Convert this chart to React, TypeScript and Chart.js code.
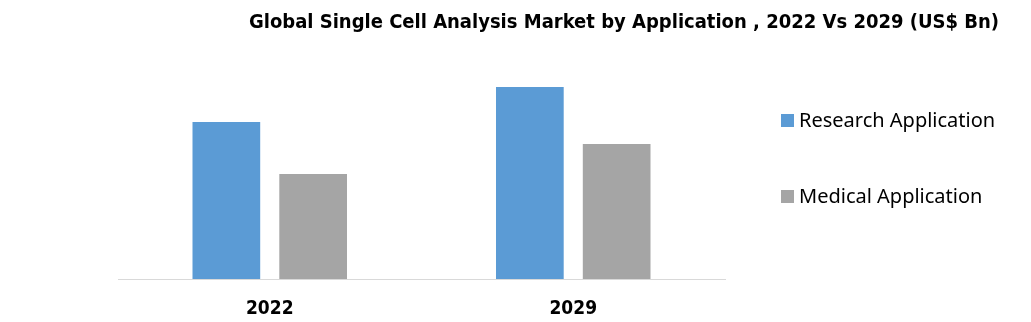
import React, { useEffect, useRef } from "react";
import { Chart, registerables } from "chart.js";

Chart.register(...registerables);

const categories = ["2022", "2029"];
const seriesNames = ["Research Application", "Medical Application"];
const researchValues = [3.27, 4.0];
const medicalValues = [2.19, 2.81];
const titleText = "Global Single Cell Analysis Market by Application , 2022 Vs 2029 (US$ Bn)";

const COLORS = ["#5b9bd5", "#a5a5a5"];
const FONT = "'Liberation Sans Narrow', 'DejaVu Sans Condensed', sans-serif";
const LEGEND_FONT = "'Noto Sans', 'Liberation Sans', sans-serif";

const titleLegendPlugin = {
  id: "titleLegend",
  afterDraw(chart: any) {
    const ctx = chart.ctx;
    ctx.save();
    // title
    ctx.fillStyle = "#000";
    ctx.font = `bold 20px ${FONT}`;
    ctx.textAlign = "center";
    ctx.textBaseline = "middle";
    ctx.fillText(titleText, 624, 23);
    // legend
    ctx.textAlign = "left";
    ctx.font = `20px ${LEGEND_FONT}`;
    const ys = [120, 196];
    chart.data.datasets.forEach((ds: any, i: number) => {
      ctx.fillStyle = ds.backgroundColor;
      ctx.fillRect(781, ys[i] - 6, 13, 13);
      ctx.fillStyle = "#000";
      ctx.fillText(ds.label, 799, ys[i] + 1);
    });
    ctx.restore();
  },
};

export default function App() {
  const ref = useRef<HTMLCanvasElement | null>(null);
  useEffect(() => {
    if (!ref.current) return;
    const chart = new Chart(ref.current, {
      type: "bar",
      data: {
        labels: categories,
        datasets: [
          { label: seriesNames[0], data: researchValues, backgroundColor: COLORS[0] },
          { label: seriesNames[1], data: medicalValues, backgroundColor: COLORS[1] },
        ],
      },
      options: {
        responsive: false,
        animation: false,
        layout: { padding: { left: 118, right: 306, top: 39, bottom: 0 } },
        datasets: {
          bar: { categoryPercentage: 0.572, barPercentage: 0.78 },
        },
        plugins: {
          legend: { display: false },
          title: { display: false },
          tooltip: { enabled: false },
        },
        scales: {
          x: {
            grid: { display: false },
            border: { display: true, color: "#d9d9d9", width: 1 },
            ticks: {
              color: "#000",
              font: { family: FONT, size: 19, weight: "bold" },
              padding: 11,
            },
            afterFit: (s: any) => {
              s.height = 43;
            },
          },
          y: {
            display: false,
            min: 0,
            max: 5,
          },
        },
      },
      plugins: [titleLegendPlugin],
    });
    return () => chart.destroy();
  }, []);
  return (
    <div style={{ position: "fixed", left: 0, top: 0, width: 1031, height: 322, background: "#fff" }}>
      <canvas ref={ref} width={1031} height={322} style={{ display: "block" }} />
    </div>
  );
}
